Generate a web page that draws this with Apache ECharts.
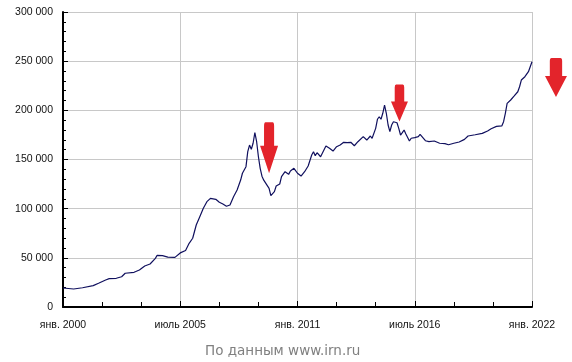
<!DOCTYPE html>
<html>
<head>
<meta charset="utf-8">
<script src="https://cdn.jsdelivr.net/npm/echarts@6/dist/echarts.min.js"></script>
<style>
html,body{margin:0;padding:0;background:#fff;}
#c{width:572px;height:362px;}
</style>
</head>
<body>
<div id="c"></div>
<script>
// months since January 2000
const months = [0,6,11,17,20,24,26,30,33,35,40,43,46,49,52,53,56,59,63,66,69,71,73,75,77,79,81,83,84,86,88,90,92,94,96,98,100,101,103,104,105,106,107,108,109,110,111,112,113,114,116,117,119,120,122,123,125,127,128,130,132,134,136,138,140,141,142,143,145,146,148,150,152,154,156,158,160,162,164,166,167,169,171,173,174,176,177,178,179,180,181,182,183,184,185,186,188,189,190,191,192,193,195,196,198,200,201,202,204,206,209,210,212,215,217,220,223,226,228,232,236,239,241,244,247,248,249,250,252,254,256,257,258,260,262,264];
// price, rub per sq. m
const prices = [19300,18300,19600,21700,24100,27500,28800,29200,30800,34300,35300,37600,41700,43700,49500,52600,52200,50800,50500,55000,57500,64800,69900,83400,91800,100400,107100,110500,111200,109500,106500,104700,102400,103700,112200,119000,129100,136000,142700,158000,164700,160400,166500,177300,168100,152800,141000,133000,129000,127400,120700,113200,117300,123000,125100,132500,137600,134900,138300,141000,136000,133200,137600,143400,154600,157900,153900,156900,152800,152800,163700,161400,158600,163000,164700,167500,167100,167500,164000,168100,167100,173200,169800,173900,171600,181700,190900,193500,190900,197000,205400,197000,185100,178300,185100,188400,187400,181700,174900,177300,180000,175900,168800,171600,172200,173200,175600,173900,169100,168100,168800,167800,166500,166100,165000,166500,167800,170500,173900,175200,176600,179000,181300,183700,184100,188400,197000,207100,210500,214600,218900,224000,230800,234200,239300,249400];
const xTickLabels = ['янв. 2000','июль 2005','янв. 2011','июль 2016','янв. 2022'];
// arrow annotations: [month offset, value]
const arrowPoints = [[116, 162000],[189.4, 207500],[277.5, 233400]];
const arrowSizes = [[18,51],[17,37],[22,39]];

const arrowPath = 'path://M30,0 L70,0 Q78,0 78,8 L78,46 L100,46 L50,100 L0,46 L22,46 L22,8 Q22,0 30,0 Z';

const chart = echarts.init(document.getElementById('c'), null, {renderer:'canvas'});
const fmtY = v => String(v).replace(/\B(?=(\d{3})+(?!\d))/g, ' ');
chart.setOption({
  animation:false,
  grid:{left:63,right:40,top:12,bottom:55,containLabel:false},
  title:{
    text:'По данным www.irn.ru',
    left:200, top:339,
    textStyle:{color:'#808080',fontSize:13.5,fontWeight:'normal',fontFamily:'DejaVu Sans'}
  },
  xAxis:{
    type:'value', min:0, max:264, interval:66,
    axisLine:{show:true,lineStyle:{color:'#000',width:2}},
    axisTick:{show:true,inside:true,length:6,lineStyle:{color:'#000',width:1}},
    minorTick:{show:true,splitNumber:3,length:5,lineStyle:{color:'#000',width:1}},
    splitLine:{show:true,lineStyle:{color:'#c8c8c8',width:1}},
    axisLabel:{
      margin:13, color:'#111', fontSize:10.5, fontFamily:'Liberation Sans',
      formatter: v => xTickLabels[Math.round(v/66)] || ''
    }
  },
  yAxis:{
    type:'value', min:0, max:300000, interval:50000,
    axisLine:{show:true,lineStyle:{color:'#000',width:2}},
    axisTick:{show:true,inside:true,length:5,lineStyle:{color:'#000',width:1}},
    minorTick:{show:true,splitNumber:5,length:3,lineStyle:{color:'#000',width:1}},
    splitLine:{show:true,lineStyle:{color:'#c8c8c8',width:1}},
    axisLabel:{margin:10,color:'#111',fontSize:10.5,fontFamily:'Liberation Sans',formatter:fmtY}
  },
  series:[
    {
      type:'line',
      data: months.map((m,i)=>[m,prices[i]]),
      showSymbol:false,
      lineStyle:{color:'#10105e',width:1.2},
      z:3
    },
    {
      type:'scatter',
      clip:false,
      symbol:arrowPath,
      data: arrowPoints.map((p,i)=>({value:p, symbolSize:arrowSizes[i]})),
      itemStyle:{color:'#e3242b',opacity:1},
      z:5
    }
  ]
});
</script>
</body>
</html>
